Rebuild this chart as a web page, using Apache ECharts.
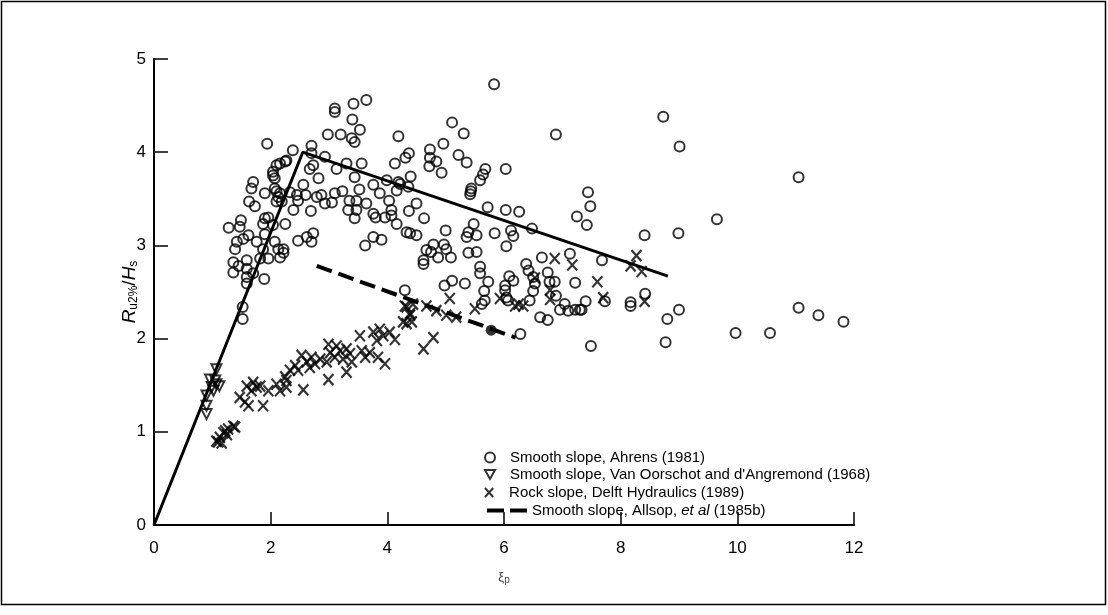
<!DOCTYPE html>
<html><head><meta charset="utf-8">
<script src="https://cdn.jsdelivr.net/npm/echarts@6/dist/echarts.min.js"></script>
<style>html,body{margin:0;padding:0;background:#fff}#c{width:1108px;height:615px}</style>
</head><body><div id="c"></div>
<script>
// ---- data ----
const xTicks = [0, 2, 4, 6, 8, 10, 12];
const yTicks = [0, 1, 2, 3, 4, 5];
const seriesNames = [
  'Smooth slope, Ahrens (1981)',
  "Smooth slope, Van Oorschot and d'Angremond (1968)",
  'Rock slope, Delft Hydraulics (1989)',
  'Smooth slope, Allsop, et al (1985b)'
];
const ahrens = [
  [8.73,4.38],[9.01,4.06],[11.05,3.73],[9.65,3.28],[8.41,3.11],[8.99,3.13],[8.42,2.48],[8.80,2.21],[9.00,2.31],[8.77,1.96],
  [9.97,2.06],[10.56,2.06],[11.05,2.33],[11.39,2.25],[11.82,2.18],
  [7.44,3.57],[7.48,3.42],[7.25,3.31],[7.42,3.22],[7.68,2.84],[7.40,2.40],[7.73,2.40],[8.17,2.39],[8.17,2.35],[7.30,2.31],
  [6.12,3.16],[6.16,3.10],[6.04,2.99],[6.48,3.18],[6.65,2.87],[7.13,2.91],
  [6.38,2.80],[6.42,2.73],[6.50,2.66],[6.53,2.59],[6.50,2.51],[6.44,2.41],[6.75,2.71],[6.78,2.61],[6.87,2.61],[7.22,2.60],
  [6.09,2.67],[6.16,2.62],[6.02,2.52],[6.04,2.44],[6.07,2.41],[6.89,2.46],[7.04,2.37],[6.96,2.31],[7.10,2.30],[7.22,2.31],
  [7.33,2.31],[6.62,2.23],[6.75,2.20],[6.28,2.05],[7.49,1.92],[5.83,4.73],[6.89,4.19],
  [5.11,4.32],[5.31,4.20],[4.19,4.17],[4.73,4.03],[4.96,4.09],[4.37,3.99],[4.31,3.94],[4.73,3.94],[4.84,3.90],[4.72,3.85],
  [5.22,3.97],[5.36,3.89],[4.93,3.78],[4.13,3.88],[4.40,3.74],[5.68,3.82],[5.64,3.76],[5.59,3.70],[6.03,3.82],[5.43,3.58],
  [5.42,3.55],[5.44,3.61],[4.19,3.68],[4.36,3.63],[4.50,3.45],[4.37,3.37],[4.63,3.29],[4.16,3.23],[5.72,3.41],[6.03,3.38],
  [6.26,3.36],[4.39,3.13],[4.50,3.11],[5.00,3.16],[5.48,3.23],[5.39,3.14],[5.36,3.09],[5.53,3.11],[5.84,3.13],
  [4.67,2.95],[4.79,3.01],[4.97,3.01],[4.87,2.87],[5.01,2.96],[5.09,2.87],[4.75,2.93],[4.62,2.84],[4.62,2.80],[5.39,2.92],
  [5.53,2.93],[5.59,2.77],[5.59,2.70],[4.98,2.57],[5.11,2.62],[5.33,2.59],[5.73,2.61],[5.66,2.51],[5.67,2.41],[5.62,2.37],
  [6.02,2.57],[4.30,2.52],[4.22,3.66],
  [3.64,4.56],[3.42,4.52],[3.10,4.47],[3.10,4.43],[3.40,4.35],[3.53,4.24],[2.98,4.19],[3.20,4.19],[3.39,4.15],[3.44,4.11],
  [2.70,4.07],[2.38,4.02],[2.70,3.99],[2.93,3.95],[3.30,3.88],[3.56,3.88],[3.13,3.82],[3.44,3.73],[3.99,3.70],[3.76,3.65],
  [3.87,3.56],[4.03,3.48],[4.16,3.59],[3.52,3.60],[3.23,3.58],[3.10,3.56],[2.87,3.54],[2.79,3.52],[2.93,3.45],[3.05,3.46],
  [3.35,3.48],[3.64,3.45],[3.47,3.48],[3.33,3.38],[3.47,3.38],[3.44,3.29],[3.76,3.34],[3.80,3.30],[3.96,3.30],[4.07,3.38],
  [4.07,3.32],[4.33,3.14],[2.56,3.65],[2.60,3.54],[2.69,3.37],[2.47,3.48],[2.39,3.38],[2.45,3.54],[2.73,3.13],[2.62,3.09],
  [2.47,3.05],[2.70,3.04],[3.76,3.09],[3.90,3.06],[3.62,3.00],[2.25,3.23],[2.22,2.96],[2.16,2.87],[2.07,3.04],[2.04,3.22],
  [2.16,3.88],[2.27,3.91],[2.04,3.75],[2.07,3.61],[2.16,3.56],[2.10,3.47],[2.33,3.57],[2.82,3.72],[2.67,3.82],[2.73,3.86],
  [1.94,4.09],[2.10,3.86],[2.25,3.90],[2.04,3.79],[2.07,3.72],[1.70,3.68],[1.67,3.61],[1.90,3.56],[2.10,3.58],[2.13,3.52],
  [2.19,3.47],[1.63,3.47],[1.73,3.42],[1.90,3.29],[1.96,3.30],[1.87,3.23],[1.49,3.27],[1.47,3.20],[1.28,3.19],[1.62,3.11],
  [1.53,3.07],[1.42,3.04],[1.39,2.96],[1.76,3.04],[1.90,3.12],[1.87,2.96],[2.13,2.96],[2.22,2.92],[1.82,2.86],[1.96,2.86],
  [1.36,2.82],[1.45,2.78],[1.59,2.84],[1.36,2.71],[1.59,2.75],[1.70,2.70],[1.59,2.66],[1.89,2.64],[1.59,2.59],[1.52,2.34],
  [1.52,2.21]
];
const vanOorschot = [
  [1.07,1.67],[0.96,1.56],[1.07,1.51],[1.02,1.44],[0.90,1.39],[0.90,1.28],[0.90,1.19],[1.12,1.49],[0.99,1.48],[1.05,1.55]
];
const delft = [
  [1.07,0.90],[1.13,0.94],[1.19,0.99],[1.27,1.03],[1.36,1.06],[1.10,0.89],[1.25,0.97],[1.16,0.88],[1.39,1.05],[1.22,1.01],
  [1.47,1.37],[1.56,1.32],[1.62,1.28],[1.67,1.44],[1.76,1.48],[1.82,1.49],[1.87,1.28],[1.96,1.44],[2.10,1.51],[2.16,1.44],
  [2.27,1.48],[2.27,1.55],[2.33,1.66],[2.56,1.45],[2.42,1.71],[2.47,1.66],[2.53,1.82],[2.62,1.75],[2.67,1.69],[2.70,1.80],
  [2.76,1.73],[2.96,1.75],[2.99,1.56],[2.99,1.94],[3.02,1.85],[3.10,1.80],[3.13,1.92],[3.19,1.87],[3.24,1.78],[3.30,1.89],
  [3.30,1.64],[3.36,1.84],[3.39,1.75],[3.53,2.03],[3.56,1.87],[3.62,1.80],[3.70,1.85],[3.82,1.98],[3.87,2.10],[3.93,2.03],
  [3.96,1.73],[4.04,2.07],[4.13,1.99],[3.84,1.80],[3.76,2.07],[4.62,1.89],[4.79,2.01],[4.27,2.18],[4.39,2.25],[4.33,2.34],
  [4.44,2.37],[4.42,2.18],[4.67,2.35],[4.84,2.30],[5.01,2.25],[4.30,2.35],[4.39,2.27],[4.33,2.16],[5.18,2.23],[5.07,2.43],
  [5.50,2.32],[5.93,2.43],[6.25,2.37],[6.19,2.35],[6.33,2.35],[6.79,2.42],[6.79,2.52],[6.87,2.86],[7.17,2.79],[7.60,2.61],
  [7.70,2.44],[8.27,2.89],[8.17,2.78],[8.36,2.72],[8.41,2.40],[6.53,2.65],[1.59,1.49],[1.70,1.53],[2.25,1.59],[2.85,1.78]
];
const allsop = [[2.79,2.78],[6.20,2.01]];
const allsopPoint = [[5.78,2.09]];
const envelope = [[0,0],[2.55,4.00],[8.81,2.67]];

// ---- chart ----
const FONT = '"Liberation Sans", Arial, Helvetica, sans-serif';
const chart = echarts.init(document.getElementById('c'), null, {renderer: 'canvas'});
const hollow = {color: 'rgba(0,0,0,0)', borderColor: '#000', borderWidth: 2};
const crossPath = 'path://M0,0L10,11M10,0L0,11';
const triPath = 'path://M0,0L10,0L5,9Z';
const dashPath = 'path://M0,0H17V4H0ZM23,0H40V4H23Z';

function legendAt(name, icon, left, top, w, h, itemStyle, formatter) {
  const l = {
    data: [{name: name, icon: icon}],
    left: left, top: top, orient: 'vertical', padding: 0,
    itemWidth: w, itemHeight: h, selectedMode: false,
    itemStyle: itemStyle,
    textStyle: {fontFamily: FONT, fontSize: 15, color: '#000',
      rich: {i: {fontFamily: FONT, fontSize: 15, fontStyle: 'italic', color: '#000'}}}
  };
  if (formatter) l.formatter = formatter;
  return l;
}

chart.setOption({
  animation: false,
  backgroundColor: '#fff',
  graphic: [{type: 'rect', shape: {x: 1.5, y: 1.5, width: 1104, height: 603},
    style: {fill: 'none', stroke: '#000', lineWidth: 1.5}, silent: true}],
  grid: {left: 154, right: 254, top: 59, bottom: 90, containLabel: false},
  xAxis: {
    type: 'value', min: xTicks[0], max: xTicks[xTicks.length - 1], interval: 2,
    splitLine: {show: false},
    axisLine: {lineStyle: {color: '#000', width: 2}},
    axisTick: {inside: true, length: 13, lineStyle: {color: '#000', width: 1.5}},
    axisLabel: {color: '#000', fontFamily: FONT, fontSize: 17, margin: 15},
    name: '{n|ξ}{s|p}', nameLocation: 'middle', nameGap: 44, nameMoveOverlap: false,
    nameTextStyle: {rich: {
      n: {fontFamily: FONT, fontSize: 13, color: '#444'},
      s: {fontFamily: FONT, fontSize: 10, color: '#444', verticalAlign: 'bottom', padding: [6, 0, 0, 0]}
    }}
  },
  yAxis: {
    type: 'value', min: yTicks[0], max: yTicks[yTicks.length - 1], interval: 1,
    splitLine: {show: false},
    axisLine: {show: true, lineStyle: {color: '#000', width: 2}},
    axisTick: {show: true, inside: true, length: 14, lineStyle: {color: '#000', width: 1.5}},
    axisLabel: {color: '#000', fontFamily: FONT, fontSize: 17, margin: 8},
    name: '{i|R}{s|u2%}{n|/}{i|H}{s|s}', nameLocation: 'middle', nameGap: 14, nameRotate: 90,
    nameMoveOverlap: false,
    nameTextStyle: {rich: {
      i: {fontFamily: FONT, fontSize: 19, fontStyle: 'italic', color: '#000'},
      n: {fontFamily: FONT, fontSize: 19, color: '#000'},
      s: {fontFamily: FONT, fontSize: 12, color: '#000', verticalAlign: 'bottom', padding: [9, 0, 0, 0]}
    }}
  },
  legend: [
    legendAt(seriesNames[0], 'circle', 484, 450, 30, 10, hollow),
    legendAt(seriesNames[1], triPath, 484, 467, 30, 9, hollow),
    legendAt(seriesNames[2], crossPath, 484, 485, 30, 9, hollow),
    legendAt(seriesNames[3], dashPath, 487, 503, 40, 4, {color: '#000', borderWidth: 0},
      function () { return 'Smooth slope, Allsop, {i|et al} (1985b)'; })
  ],
  series: [
    {name: 'envelope', type: 'line', data: envelope, symbol: 'none', silent: true, z: 3,
      lineStyle: {color: '#000', width: 3}},
    {name: seriesNames[0], type: 'scatter', data: ahrens, symbol: 'circle', symbolSize: 10,
      itemStyle: hollow, z: 4},
    {name: seriesNames[1], type: 'scatter', data: vanOorschot, symbol: triPath, symbolSize: [10, 10],
      itemStyle: hollow, z: 4},
    {name: seriesNames[2], type: 'scatter', data: delft, symbol: crossPath, symbolSize: [10, 11],
      itemStyle: {color: 'rgba(0,0,0,0)', borderColor: '#000', borderWidth: 2.2}, z: 4},
    {name: seriesNames[3], type: 'line', data: allsop, symbol: 'none', color: '#000', z: 3,
      lineStyle: {color: '#000', width: 4, type: [16, 7]}},
    {name: 'allsopPoint', type: 'scatter', data: allsopPoint, symbol: 'circle', symbolSize: 11,
      itemStyle: {color: '#000'}, z: 5}
  ]
});
</script>
</body></html>
